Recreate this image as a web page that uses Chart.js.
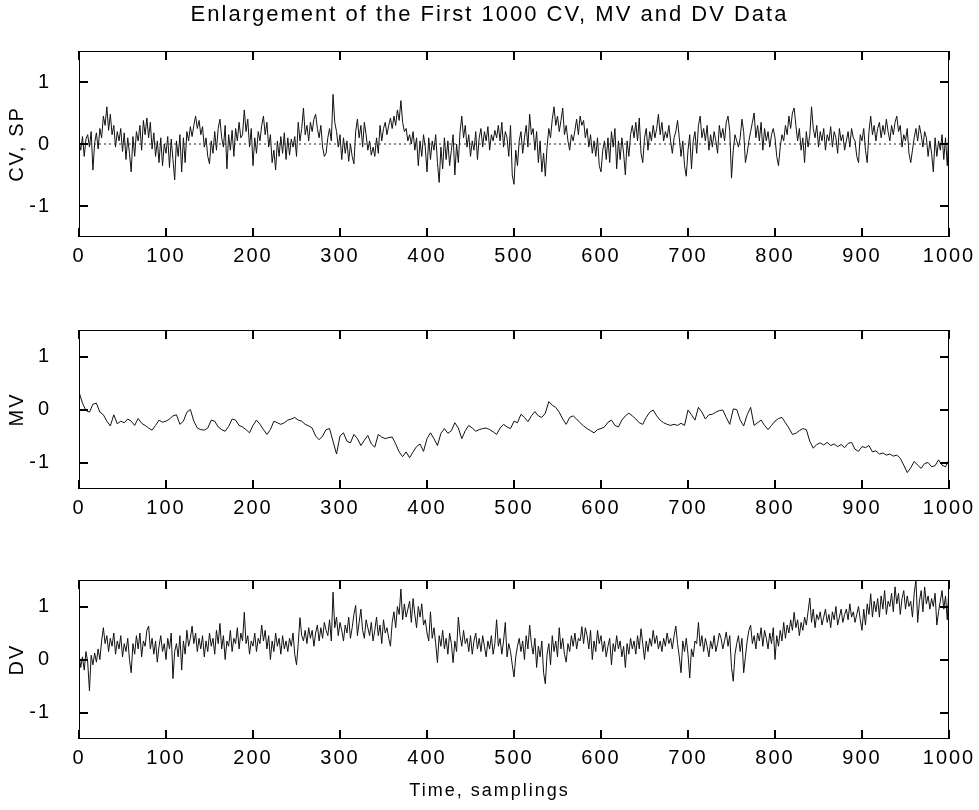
<!DOCTYPE html>
<html>
<head>
<meta charset="utf-8">
<script src="https://cdn.jsdelivr.net/npm/chart.js@4.4.1/dist/chart.umd.min.js"></script>
<style>
  html, body { margin: 0; padding: 0; background: #fff; }
  #wrap { position: relative; width: 979px; height: 810px; }
  canvas { position: absolute; left: 0; }
</style>
</head>
<body>
<div id="wrap">
  <canvas id="cvChart" width="979" height="290" style="top:0px"></canvas>
  <canvas id="mvChart" width="979" height="250" style="top:290px"></canvas>
  <canvas id="dvChart" width="979" height="270" style="top:540px"></canvas>
</div>
<script>
// ---- text ----
const chartTitle = 'Enlargement of the First 1000 CV, MV and DV Data';
const xAxisTitle = 'Time, samplings';
const cvLabel = 'CV, SP';
const mvLabel = 'MV';
const dvLabel = 'DV';

// ---- tick values ----
const xTicks = [0, 100, 200, 300, 400, 500, 600, 700, 800, 900, 1000];
const yTicks = [-1, 0, 1];

// ---- sampling interval of each stored series (in samplings) ----
const cvStep = 2;
const mvStep = 4;
const dvStep = 2;

// controlled variable, every 2nd sampling
const cv = [
  0.05, -0.10, 0.12, -0.20, 0.08, 0.15, -0.05, 0.20, -0.42, 0.02,
  0.18, -0.08, 0.25, 0.10, 0.45, 0.30, 0.60, 0.22, 0.48, 0.15,
  0.30, -0.05, 0.20, 0.05, 0.25, -0.12, 0.18, -0.25, 0.10, -0.15,
  -0.45, 0.12, -0.20, 0.20, 0.05, 0.30, -0.10, 0.38, 0.15, 0.42,
  0.10, 0.35, -0.08, 0.18, -0.20, 0.05, -0.30, 0.10, -0.35, 0.00,
  -0.15, 0.12, -0.38, 0.08, -0.25, -0.58, 0.05, -0.20, 0.15, -0.45,
  0.10, -0.30, 0.20, 0.05, 0.28, 0.12, 0.30, 0.45, 0.25, 0.38,
  0.15, 0.28, -0.05, 0.10, -0.20, -0.32, 0.05, -0.15, 0.20, -0.10,
  0.25, 0.40, 0.10, -0.05, 0.30, -0.40, 0.15, -0.10, 0.22, -0.20,
  0.25, 0.05, 0.35, 0.10, 0.15, 0.55, 0.20, 0.40, -0.05, 0.25,
  -0.35, 0.10, -0.15, 0.20, 0.05, 0.30, 0.45, 0.15, 0.35, -0.05,
  0.15, -0.30, -0.10, -0.42, 0.05, -0.20, 0.12, -0.15, 0.18, -0.25,
  0.10, -0.18, 0.08, -0.05, 0.12, -0.20, 0.35, 0.05, 0.25, 0.58,
  0.15, 0.30, 0.05, 0.35, 0.20, 0.40, 0.48, 0.25, 0.10, 0.30,
  -0.05, -0.20, -0.15, 0.10, 0.25, 0.05, 0.80, 0.35, 0.20, -0.05,
  0.15, -0.25, 0.10, -0.15, 0.05, -0.28, 0.00, -0.20, -0.32, 0.20,
  0.40, 0.10, 0.30, -0.05, 0.35, 0.15, -0.10, 0.05, -0.18, -0.05,
  -0.20, 0.10, -0.15, 0.30, 0.05, 0.25, 0.35, 0.15, 0.30, 0.42,
  0.25, 0.45, 0.30, 0.55, 0.38, 0.70, 0.35, 0.20, 0.25, 0.05,
  0.15, 0.00, 0.20, -0.10, 0.10, -0.35, 0.05, -0.20, 0.15, -0.05,
  -0.45, 0.10, -0.25, 0.05, -0.10, 0.15, -0.30, -0.62, -0.05, -0.40,
  0.10, -0.25, 0.05, -0.35, -0.10, 0.15, -0.50, 0.00, -0.30, 0.20,
  0.45, 0.10, 0.30, -0.05, 0.15, -0.20, 0.05, -0.10, 0.20, -0.25,
  0.10, 0.25, -0.05, 0.20, 0.05, 0.28, -0.10, 0.15, 0.05, 0.22,
  0.10, 0.30, 0.05, 0.35, -0.05, 0.20, 0.10, -0.20, 0.30, -0.50,
  -0.65, -0.10, -0.35, 0.05, 0.20, -0.15, 0.10, 0.30, -0.05, 0.48,
  0.15, 0.25, -0.10, 0.20, -0.30, 0.05, -0.45, -0.15, -0.52, -0.05,
  0.25, 0.10, 0.40, 0.60, 0.30, 0.45, 0.20, 0.38, 0.58, 0.15,
  0.30, 0.05, -0.10, 0.15, 0.05, 0.22, 0.40, 0.15, 0.45, 0.30,
  0.38, 0.10, 0.25, -0.05, 0.15, -0.15, 0.05, -0.20, 0.10, -0.35,
  -0.45, -0.10, 0.05, -0.25, 0.10, -0.30, 0.20, -0.05, 0.25, -0.40,
  0.05, -0.25, 0.10, -0.15, -0.50, 0.05, -0.20, 0.15, 0.30, 0.10,
  0.35, 0.05, 0.42, -0.15, -0.30, 0.10, 0.25, -0.10, 0.20, 0.05,
  0.30, 0.10, 0.25, 0.48, 0.15, 0.35, 0.05, 0.20, 0.10, 0.30,
  0.05, -0.15, 0.10, 0.20, 0.38, 0.10, -0.20, 0.05, -0.35, -0.52,
  -0.10, 0.15, -0.40, 0.05, 0.20, -0.15, 0.30, 0.45, 0.10, 0.25,
  0.05, 0.30, -0.10, 0.15, -0.05, 0.20, 0.05, -0.15, 0.30, 0.10,
  0.25, 0.05, 0.35, 0.45, 0.20, -0.55, -0.10, 0.15, 0.05, -0.05,
  0.10, 0.40, 0.20, -0.30, -0.15, 0.05, 0.20, 0.35, 0.50, 0.10,
  0.30, 0.05, 0.35, -0.10, 0.25, 0.05, 0.20, -0.05, 0.15, 0.25,
  0.10, -0.20, -0.35, -0.05, 0.15, 0.05, 0.30, 0.15, 0.45, 0.25,
  0.50, 0.58, 0.30, 0.05, 0.25, -0.10, 0.10, -0.30, 0.20, -0.05,
  0.15, 0.60, 0.25, 0.10, 0.30, -0.05, 0.20, 0.05, 0.25, -0.10,
  0.15, 0.05, 0.28, -0.05, 0.20, 0.10, -0.15, 0.25, 0.05, 0.15,
  -0.10, 0.05, 0.20, -0.05, 0.25, 0.10, 0.05, -0.20, -0.30, 0.15,
  0.05, 0.25, -0.10, -0.30, 0.20, 0.45, 0.15, 0.30, 0.05, 0.25,
  0.35, 0.10, 0.30, 0.15, 0.40, 0.20, 0.05, 0.30, 0.15, 0.35,
  0.45, 0.20, 0.30, -0.05, 0.15, 0.05, 0.25, -0.15, -0.30, -0.10,
  0.10, 0.25, 0.05, 0.30, 0.15, -0.05, 0.20, 0.10, -0.20, 0.05,
  -0.15, -0.45, 0.10, -0.20, 0.05, -0.10, 0.15, -0.25, 0.10, -0.35,
  0.28
];

// set point (constant)
const spTimes = [0, 1000];
const sp = [0, 0];

// manipulated variable, every 4th sampling
const mv = [
  0.33, 0.12, -0.02, -0.05, 0.10, 0.12, -0.05, -0.10, -0.22, -0.31,
  -0.10, -0.27, -0.22, -0.25, -0.18, -0.22, -0.30, -0.17, -0.26, -0.30,
  -0.35, -0.39, -0.30, -0.20, -0.24, -0.22, -0.18, -0.12, -0.10, -0.28,
  -0.22, -0.05, 0.00, -0.22, -0.35, -0.38, -0.39, -0.35, -0.20, -0.22,
  -0.33, -0.38, -0.41, -0.32, -0.18, -0.20, -0.30, -0.33, -0.38, -0.44,
  -0.30, -0.20, -0.28, -0.38, -0.47, -0.38, -0.22, -0.25, -0.28, -0.25,
  -0.20, -0.18, -0.15, -0.20, -0.22, -0.28, -0.31, -0.35, -0.50, -0.57,
  -0.50, -0.38, -0.36, -0.60, -0.84, -0.50, -0.44, -0.60, -0.63, -0.47,
  -0.55, -0.68, -0.58, -0.49, -0.65, -0.71, -0.47, -0.52, -0.55, -0.53,
  -0.52, -0.65, -0.80, -0.89, -0.80, -0.91, -0.80, -0.70, -0.65, -0.79,
  -0.55, -0.44, -0.55, -0.68, -0.45, -0.36, -0.45, -0.40, -0.25, -0.35,
  -0.55, -0.40, -0.30, -0.35, -0.41, -0.38, -0.36, -0.35, -0.38, -0.42,
  -0.47, -0.35, -0.28, -0.33, -0.36, -0.22, -0.25, -0.09, -0.15, -0.23,
  -0.12, -0.04, -0.12, -0.15, -0.07, 0.15, 0.08, 0.04, -0.05, -0.18,
  -0.28, -0.15, -0.12, -0.18, -0.25, -0.31, -0.36, -0.40, -0.44, -0.38,
  -0.36, -0.33, -0.24, -0.20, -0.30, -0.33, -0.20, -0.12, -0.07, -0.12,
  -0.18, -0.25, -0.28, -0.15, -0.05, -0.01, -0.12, -0.20, -0.25, -0.28,
  -0.30, -0.28, -0.30, -0.26, -0.30, -0.01, -0.10, -0.20, 0.04, -0.05,
  -0.18, -0.10, -0.09, -0.05, -0.02, -0.01, -0.15, -0.28, 0.01, 0.00,
  -0.20, -0.31, -0.10, 0.04, -0.30, -0.25, -0.20, -0.30, -0.38, -0.30,
  -0.22, -0.17, -0.15, -0.25, -0.35, -0.47, -0.45, -0.40, -0.36, -0.38,
  -0.60, -0.73, -0.66, -0.63, -0.67, -0.62, -0.68, -0.65, -0.70, -0.66,
  -0.72, -0.64, -0.62, -0.75, -0.79, -0.70, -0.72, -0.68, -0.80, -0.78,
  -0.84, -0.82, -0.86, -0.84, -0.88, -0.86, -0.92, -1.05, -1.19, -1.10,
  -0.98, -1.05, -1.11, -1.02, -1.00, -1.08, -1.06, -0.95, -1.05, -1.08,
  -0.95
];

// disturbance variable, every 2nd sampling
const dv = [
  0.10, -0.15, 0.05, -0.20, 0.15, -0.05, -0.59, 0.08, -0.10, 0.12,
  -0.05, 0.20, 0.00, 0.35, 0.60, 0.30, 0.45, 0.15, 0.40, 0.25,
  0.50, 0.10, 0.35, 0.20, 0.45, 0.05, 0.30, 0.15, 0.40, 0.00,
  -0.25, 0.30, 0.10, 0.45, 0.20, 0.50, 0.05, 0.35, 0.25, 0.55,
  0.63, 0.20, 0.40, 0.10, 0.35, -0.05, 0.25, 0.45, 0.15, 0.30,
  0.00, 0.40, 0.20, 0.50, -0.36, 0.15, 0.30, 0.05, 0.45, -0.20,
  0.35, 0.10, 0.55, 0.25, 0.40, 0.63, 0.30, 0.50, 0.15, 0.40,
  0.20, 0.45, 0.05, 0.35, 0.15, 0.50, 0.25, 0.40, 0.10, 0.55,
  0.30, 0.68, 0.20, 0.45, 0.00, 0.35, 0.25, 0.55, 0.15, 0.40,
  0.30, 0.60, 0.20, 0.50, 0.35, 0.89, 0.30, 0.45, 0.10, 0.35,
  0.25, 0.50, 0.15, 0.40, 0.30, 0.65, 0.35, 0.55, 0.20, 0.45,
  0.00, 0.35, 0.15, 0.50, 0.25, 0.40, 0.10, 0.45, 0.20, 0.35,
  0.15, 0.40, 0.25, 0.50, 0.10, -0.10, 0.30, 0.79, 0.45, 0.35,
  0.55, 0.30, 0.60, 0.40, 0.55, 0.25, 0.50, 0.65, 0.35, 0.60,
  0.40, 0.70, 0.55, 0.45, 0.75, 0.35, 1.27, 0.60, 0.80, 0.45,
  0.70, 0.55, 0.35, 0.65, 0.50, 0.80, 0.40, 0.60, 0.85, 1.02,
  0.45, 0.70, 0.95, 0.55, 0.40, 0.75, 0.60, 0.45, 0.70, 0.35,
  0.55, 0.80, 0.45, 0.65, 0.30, 0.75, 0.50, 0.60, 0.40, 0.25,
  0.70, 0.90, 0.60, 1.00, 0.85, 1.33, 0.75, 1.05, 0.80, 0.95,
  1.10, 0.70, 1.15, 0.85, 0.60, 1.00, 0.80, 1.05, 0.65, 0.75,
  0.50, 0.35, 0.90, 0.40, 0.60, 0.30, -0.06, 0.45, 0.25, 0.55,
  0.20, 0.40, 0.10, 0.50, 0.30, -0.06, 0.35, 0.15, 0.80, 0.45,
  0.25, 0.55, 0.30, 0.40, 0.15, 0.45, 0.10, 0.35, 0.50, 0.20,
  0.40, 0.15, 0.45, 0.25, 0.05, 0.35, 0.20, 0.45, 0.10, 0.30,
  0.75, 0.25, 0.40, 0.10, 0.35, 0.70, 0.05, 0.30, 0.15, -0.10,
  -0.33, 0.05, 0.25, 0.40, 0.15, 0.35, 0.00, 0.45, 0.20, 0.65,
  0.30, 0.10, 0.40, -0.15, 0.25, 0.05, 0.35, -0.25, -0.46, 0.10,
  0.30, -0.10, 0.45, 0.15, 0.35, 0.05, 0.60, 0.20, 0.40, 0.10,
  -0.05, 0.30, 0.15, 0.45, 0.25, 0.50, 0.20, 0.40, 0.35, 0.62,
  0.30, 0.60, 0.45, 0.20, 0.55, 0.00, 0.35, 0.15, 0.55, 0.30,
  0.45, 0.15, 0.35, 0.05, 0.25, 0.40, -0.10, 0.30, 0.15, 0.45,
  0.20, 0.35, 0.05, 0.25, -0.15, 0.30, 0.10, 0.40, 0.20, 0.35,
  0.10, 0.45, 0.20, 0.58, 0.30, 0.00, 0.35, 0.15, 0.40, 0.25,
  0.55, 0.30, 0.45, 0.20, 0.35, 0.15, 0.40, 0.25, 0.50, 0.30,
  0.40, 0.20, 0.45, 0.63, 0.30, 0.05, -0.25, 0.35, 0.15, 0.40,
  0.10, -0.35, 0.20, 0.05, 0.35, 0.30, 0.70, 0.25, 0.45, 0.15,
  0.40, 0.25, 0.05, 0.35, 0.20, 0.45, 0.15, 0.30, 0.50, 0.40,
  0.20, 0.35, 0.52, 0.25, 0.45, -0.15, -0.41, 0.10, 0.30, 0.45,
  0.15, 0.40, -0.25, 0.05, 0.35, 0.55, 0.65, 0.30, 0.45, 0.20,
  0.50, 0.35, 0.60, 0.25, 0.55, 0.40, 0.20, 0.50, 0.30, 0.60,
  0.00, 0.45, 0.25, 0.55, 0.35, 0.70, 0.40, 0.65, 0.50, 0.75,
  0.55, 0.89, 0.60, 0.75, 0.45, 0.70, 0.55, 0.80, 0.65, 0.90,
  1.16, 0.70, 0.95, 0.60, 0.85, 0.75, 0.90, 0.65, 0.80, 0.95,
  0.70, 0.85, 0.60, 0.90, 0.75, 1.00, 0.65, 0.80, 0.95, 0.70,
  0.85, 0.95, 0.75, 1.05, 0.80, 0.90, 0.70, 0.85, 1.00, 0.75,
  0.55, 0.95, 0.65, 1.05, 0.85, 1.24, 0.80, 1.10, 0.90, 1.15,
  0.80, 1.20, 0.95, 1.30, 0.85, 1.10, 1.00, 1.25, 0.90, 1.37,
  1.05, 1.25, 0.85, 1.15, 1.30, 0.95, 1.20, 1.00, 1.10, 0.80,
  1.25, 1.50, 0.70, 1.10, 1.30, 0.90, 1.37, 1.05, 1.20, 0.95,
  1.15, 1.00, 1.25, 0.65, 0.90, 1.10, 1.30, 0.95, 1.20, 0.75,
  1.37
];

// ---- helpers ----
const FONT = "'Liberation Sans', Arial, Helvetica, sans-serif";
const INK = '#000';
const LINE = '#111';
const TICK_LEN = 9;

function toPoints(values, step) {
  return values.map((v, i) => ({ x: i * step, y: v }));
}

// slightly spaced lettering for every label drawn on the canvas
const spacedText = {
  id: 'spacedText',
  beforeDraw(chart) { chart.ctx.letterSpacing = '2px'; }
};

// box around the plotting area plus inward tick marks on all four sides
const frameTicks = {
  id: 'frameTicks',
  afterDraw(chart) {
    const ctx = chart.ctx;
    const a = chart.chartArea;
    const xs = chart.scales.x;
    const ys = chart.scales.y;
    const L = Math.round(a.left);
    const R = Math.round(a.right);
    const T = Math.round(a.top);
    const B = Math.round(a.bottom);
    ctx.save();
    ctx.fillStyle = INK;
    ctx.fillRect(L, T, R - L, 1);
    ctx.fillRect(L, B - 1, R - L, 1);
    ctx.fillRect(L, T, 1, B - T);
    ctx.fillRect(R - 1, T, 1, B - T);
    xTicks.forEach(v => {
      const px = Math.round(xs.getPixelForValue(v));
      ctx.fillRect(px - 1, T, 2, TICK_LEN);
      ctx.fillRect(px - 1, B - TICK_LEN, 2, TICK_LEN);
    });
    yTicks.forEach(v => {
      const py = Math.round(ys.getPixelForValue(v));
      ctx.fillRect(L, py - 1, TICK_LEN, 2);
      ctx.fillRect(R - TICK_LEN, py - 1, TICK_LEN, 2);
    });
    ctx.restore();
  }
};

function xScale(axisHeight) {
  return {
    type: 'linear',
    min: 0,
    max: 1000,
    afterBuildTicks: s => { s.ticks = xTicks.map(v => ({ value: v })); },
    afterFit: s => { s.height = axisHeight; },
    grid: { display: false, drawTicks: false },
    border: { display: false },
    ticks: {
      color: INK,
      padding: 7,
      maxRotation: 0,
      autoSkip: false,
      callback: v => String(v),
      font: { family: FONT, size: 20 }
    }
  };
}

function yScale(label) {
  return {
    type: 'linear',
    min: -1.5,
    max: 1.5,
    afterBuildTicks: s => { s.ticks = yTicks.map(v => ({ value: v })); },
    afterFit: s => { s.width = 79; },
    grid: { display: false, drawTicks: false },
    border: { display: false },
    ticks: {
      color: INK,
      padding: 28,
      callback: v => String(v),
      font: { family: FONT, size: 20 }
    },
    title: {
      display: true,
      text: label,
      color: INK,
      font: { family: FONT, size: 20 },
      padding: { top: 5, bottom: 0 }
    }
  };
}

// empty right-hand axis that keeps a margin on the right of each panel
const rightMargin = {
  type: 'linear',
  position: 'right',
  min: -1.5,
  max: 1.5,
  afterFit: s => { s.width = 30; },
  grid: { display: false, drawTicks: false },
  border: { display: false },
  ticks: { display: false }
};

function lineSet(data, extra) {
  return Object.assign({
    data,
    borderColor: LINE,
    borderWidth: 1,
    pointRadius: 0,
    tension: 0,
    fill: false
  }, extra || {});
}

function baseOptions(topPad, axisHeight, yLabel, titleOpts) {
  return {
    responsive: false,
    animation: false,
    events: [],
    layout: { padding: { top: topPad, right: 0, bottom: 0, left: 0 } },
    plugins: {
      legend: { display: false },
      tooltip: { enabled: false },
      title: titleOpts || { display: false }
    },
    scales: { x: xScale(axisHeight), y: yScale(yLabel), yr: rightMargin }
  };
}

// ---- CV & SP ----
new Chart(document.getElementById('cvChart'), {
  type: 'line',
  data: {
    datasets: [
      lineSet(spTimes.map((t, i) => ({ x: t, y: sp[i] })), { borderColor: '#222', borderDash: [2, 3] }),
      lineSet(toPoints(cv, cvStep))
    ]
  },
  options: baseOptions(0, 53, cvLabel, {
    display: true,
    text: chartTitle,
    color: INK,
    font: { family: FONT, size: 22, weight: 'normal' },
    padding: { top: 1.8, bottom: 22.8 }
  }),
  plugins: [spacedText, frameTicks]
});

// ---- MV ----
new Chart(document.getElementById('mvChart'), {
  type: 'line',
  data: { datasets: [lineSet(toPoints(mv, mvStep))] },
  options: baseOptions(12, 51, mvLabel),
  plugins: [spacedText, frameTicks]
});

// ---- DV, with the time axis caption underneath ----
new Chart(document.getElementById('dvChart'), {
  type: 'line',
  data: { datasets: [lineSet(toPoints(dv, dvStep))] },
  options: baseOptions(12, 41.4, dvLabel, {
    display: true,
    position: 'bottom',
    text: xAxisTitle,
    color: INK,
    font: { family: FONT, size: 18, weight: 'normal' },
    padding: { top: 0, bottom: 8 }
  }),
  plugins: [spacedText, frameTicks]
});
</script>
</body>
</html>
